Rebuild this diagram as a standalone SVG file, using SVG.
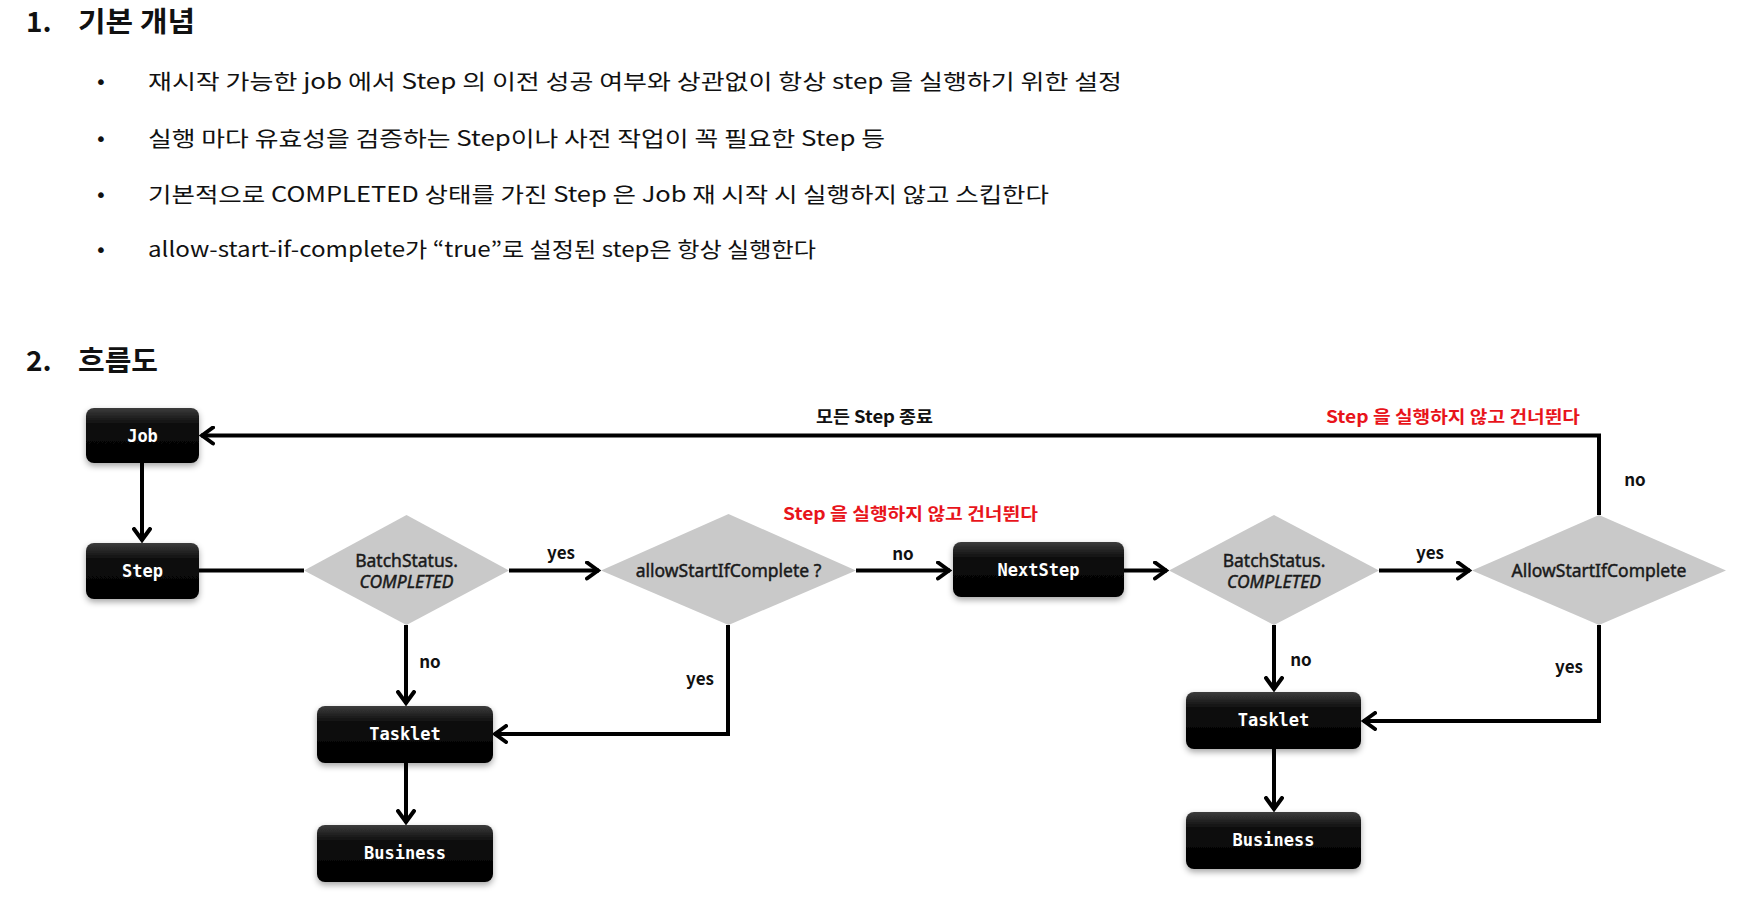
<svg xmlns="http://www.w3.org/2000/svg" width="1751" height="902" viewBox="0 0 1751 902">
<style>
.h{font-family:"Noto Sans CJK KR","Noto Sans",sans-serif;font-size:28px;font-weight:bold;fill:#111}
.b{font-family:"Noto Sans CJK KR","Noto Sans",sans-serif;font-size:21px;fill:#111}
.dot{font-family:"DejaVu Sans",sans-serif;font-size:20px;fill:#111}
.nt{font-family:"DejaVu Sans Mono","Liberation Mono",monospace;font-size:17px;font-weight:bold;fill:#fff;text-anchor:middle}
.dt{font-family:"Noto Sans","Noto Sans CJK KR",sans-serif;font-size:17.5px;fill:#1a1a1a;stroke:#1a1a1a;stroke-width:0.45;text-anchor:middle}
.lb{font-family:"Noto Sans CJK KR","Noto Sans",sans-serif;font-size:17px;font-weight:bold;fill:#111}
.red{fill:#e8141b}
.c{fill:none;stroke:#000;stroke-width:4}
.box{fill:url(#g);filter:url(#sh)}
.dia{fill:#c9c9c9}
</style>
<defs>
<linearGradient id="g" x1="0" y1="0" x2="0" y2="1">
<stop offset="0" stop-color="#3c3c3c"/>
<stop offset="0.3" stop-color="#0c0c0c"/>
<stop offset="1" stop-color="#000"/>
</linearGradient>
<filter id="sh" x="-20%" y="-20%" width="140%" height="150%">
<feDropShadow dx="0" dy="3" stdDeviation="3" flood-color="#000" flood-opacity="0.35"/>
</filter>
<marker id="a" viewBox="0 0 16 20" refX="14" refY="10" markerWidth="16" markerHeight="20" markerUnits="userSpaceOnUse" orient="auto">
<path d="M2,2 L13,10 L2,18" fill="none" stroke="#000" stroke-width="4" stroke-linecap="round" stroke-linejoin="miter"/>
</marker>
</defs>
<rect width="1751" height="902" fill="#fff"/>

<g id="text">
<text class="h" x="26" y="32">1.</text>
<text class="h" x="78" y="32" textLength="117" lengthAdjust="spacingAndGlyphs">기본 개념</text>
<text class="dot" x="95" y="89">•</text>
<text class="b" x="148" y="89" textLength="974" lengthAdjust="spacingAndGlyphs">재시작 가능한 job 에서 Step 의 이전 성공 여부와 상관없이 항상 step 을 실행하기 위한 설정</text>
<text class="dot" x="95" y="146">•</text>
<text class="b" x="148" y="146" textLength="737" lengthAdjust="spacingAndGlyphs">실행 마다 유효성을 검증하는 Step이나 사전 작업이 꼭 필요한 Step 등</text>
<text class="dot" x="95" y="202">•</text>
<text class="b" x="148" y="202" textLength="901" lengthAdjust="spacingAndGlyphs">기본적으로 COMPLETED 상태를 가진 Step 은 Job 재 시작 시 실행하지 않고 스킵한다</text>
<text class="dot" x="95" y="257">•</text>
<text class="b" x="148" y="257" textLength="668" lengthAdjust="spacingAndGlyphs">allow-start-if-complete가 “true”로 설정된 step은 항상 실행한다</text>
<text class="h" x="26" y="371">2.</text>
<text class="h" x="78" y="371" textLength="80" lengthAdjust="spacingAndGlyphs">흐름도</text>
</g>

<g id="connectors">
<path class="c" d="M1599,515 V435.5 H201" marker-end="url(#a)"/>
<path class="c" d="M142,463 V541" marker-end="url(#a)"/>
<path class="c" d="M199,570.5 H304"/>
<path class="c" d="M509,570.5 H599" marker-end="url(#a)"/>
<path class="c" d="M856,570.5 H950" marker-end="url(#a)"/>
<path class="c" d="M1124,570.5 H1167" marker-end="url(#a)"/>
<path class="c" d="M1379,570.5 H1470" marker-end="url(#a)"/>
<path class="c" d="M406,625 V704" marker-end="url(#a)"/>
<path class="c" d="M728,625 V734 H494" marker-end="url(#a)"/>
<path class="c" d="M406,763 V823" marker-end="url(#a)"/>
<path class="c" d="M1274,625 V690" marker-end="url(#a)"/>
<path class="c" d="M1599,625 V721 H1363" marker-end="url(#a)"/>
<path class="c" d="M1274,749 V810" marker-end="url(#a)"/>
<text class="lb" x="816" y="423" textLength="117" lengthAdjust="spacingAndGlyphs">모든 Step 종료</text>
<text class="lb red" x="1326" y="423" textLength="254" lengthAdjust="spacingAndGlyphs">Step 을 실행하지 않고 건너뛴다</text>
<text class="lb red" x="783" y="520" textLength="255" lengthAdjust="spacingAndGlyphs">Step 을 실행하지 않고 건너뛴다</text>
<text class="lb" x="561" y="559" text-anchor="middle">yes</text>
<text class="lb" x="903" y="560" text-anchor="middle">no</text>
<text class="lb" x="1430" y="559" text-anchor="middle">yes</text>
<text class="lb" x="1635" y="486" text-anchor="middle">no</text>
<text class="lb" x="430" y="668" text-anchor="middle">no</text>
<text class="lb" x="700" y="685" text-anchor="middle">yes</text>
<text class="lb" x="1301" y="666" text-anchor="middle">no</text>
<text class="lb" x="1569" y="673" text-anchor="middle">yes</text>
</g>

<g id="job"><rect class="box" x="86" y="408" width="113" height="55" rx="8"/><text class="nt" x="142.5" y="441.5">Job</text></g>
<g id="step"><rect class="box" x="86" y="543" width="113" height="56" rx="8"/><text class="nt" x="142.5" y="576.5">Step</text></g>
<g id="batch1"><polygon class="dia" points="406.5,515 509,570.5 406.5,625 304,570.5"/><text class="dt" x="406.5" y="567">BatchStatus.</text><text class="dt" x="406.5" y="588" font-style="italic">COMPLETED</text></g>
<g id="allow1"><polygon class="dia" points="728.5,514 856,570.5 728.5,625 601,570.5"/><text class="dt" x="728.5" y="577">allowStartIfComplete ?</text></g>
<g id="nextstep"><rect class="box" x="953" y="542" width="171" height="55" rx="8"/><text class="nt" x="1038.5" y="575.5">NextStep</text></g>
<g id="batch2"><polygon class="dia" points="1274,515 1379,570.5 1274,625 1169,570.5"/><text class="dt" x="1274" y="567">BatchStatus.</text><text class="dt" x="1274" y="588" font-style="italic">COMPLETED</text></g>
<g id="allow2"><polygon class="dia" points="1599,515 1726,570.5 1599,625 1472,570.5"/><text class="dt" x="1599" y="577">AllowStartIfComplete</text></g>
<g id="tasklet1"><rect class="box" x="317" y="706" width="176" height="57" rx="8"/><text class="nt" x="405" y="740">Tasklet</text></g>
<g id="business1"><rect class="box" x="317" y="825" width="176" height="57" rx="8"/><text class="nt" x="405" y="859">Business</text></g>
<g id="tasklet2"><rect class="box" x="1186" y="692" width="175" height="57" rx="8"/><text class="nt" x="1273.5" y="726">Tasklet</text></g>
<g id="business2"><rect class="box" x="1186" y="812" width="175" height="57" rx="8"/><text class="nt" x="1273.5" y="846">Business</text></g>
</svg>
